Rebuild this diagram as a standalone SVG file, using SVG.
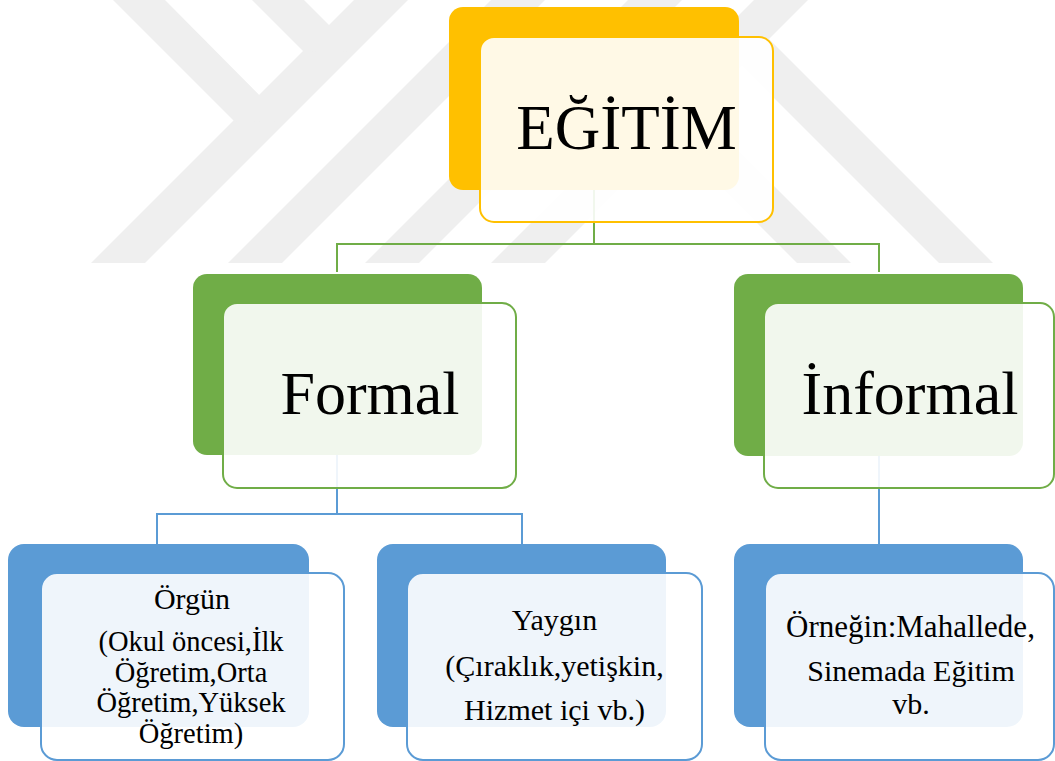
<svg xmlns="http://www.w3.org/2000/svg" width="1055" height="761" viewBox="0 0 1055 761">
  <style>
    .wm { fill: #EFEFEF; }
    .back-y { fill: #FFC000; }
    .back-g { fill: #70AD47; }
    .back-b { fill: #5B9BD5; }
    .front { fill: #FFFFFF; fill-opacity: 0.9; stroke-width: 2; }
    .fy { stroke: #FFC000; }
    .fg { stroke: #70AD47; }
    .fb { stroke: #5B9BD5; }
    .cg { fill: none; stroke: #70AD47; stroke-width: 2; }
    .cb { fill: none; stroke: #5B9BD5; stroke-width: 2; }
    .big { font-family: "Liberation Serif", "Times New Roman", serif; font-size: 62px; fill: #000; text-anchor: middle; }
    .small { font-family: "Liberation Serif", "Times New Roman", serif; font-size: 30px; fill: #000; text-anchor: middle; }
    .tight { font-size: 28.5px; }
  </style>
  <rect x="0" y="0" width="1055" height="761" fill="#FFFFFF"/>
  <g id="watermark">
    <polygon class="wm" points="91,263 145,263 408,0 354,0"/>
    <polygon class="wm" points="228,263 282,263 545,0 491,0"/>
    <polygon class="wm" points="365,263 419,263 682,0 628,0"/>
    <polygon class="wm" points="491,263 545,263 808,0 754,0"/>
    <polygon class="wm" points="113,0 165,0 286,122 234,121"/>
    <polygon class="wm" points="252,0 304,0 356,52 303,51"/>
    <polygon class="wm" points="939,263 993,263 769,39 715,39"/>
    <polygon class="wm" points="797,263 851,263 635,47 581,47"/>
  </g>
  <g id="connectors">
    <path class="cg" d="M594,190 V244 M337,272 V244 H879 V272"/>
    <path class="cb" d="M337,455 V514 M157,544 V514 H522 V544"/>
    <path class="cb" d="M879,456 V544"/>
  </g>
  <g id="node-egitim">
    <rect class="back-y" x="449" y="7" width="290" height="183" rx="14"/>
    <rect class="front fy" x="480" y="37" width="293" height="185" rx="14"/>
    <text class="big" x="626.5" y="149" style="font-size:63px">EĞİTİM</text>
  </g>
  <g id="node-formal">
    <rect class="back-g" x="193" y="274" width="289" height="181" rx="14"/>
    <rect class="front fg" x="223" y="303" width="293" height="185" rx="14"/>
    <text class="big" x="370" y="414">Formal</text>
  </g>
  <g id="node-informal">
    <rect class="back-g" x="734" y="274" width="289" height="182" rx="14"/>
    <rect class="front fg" x="764" y="303" width="290" height="185" rx="14"/>
    <text class="big" x="910" y="414">İnformal</text>
  </g>
  <g id="node-orgun">
    <rect class="back-b" x="8" y="544" width="301" height="183" rx="16"/>
    <rect class="front fb" x="41" y="573" width="303" height="187" rx="16"/>
    <text class="small" x="192" y="609">Örgün</text>
    <text class="small tight" x="191" y="651">(Okul öncesi,İlk</text>
    <text class="small tight" x="191" y="681.5">Öğretim,Orta</text>
    <text class="small tight" x="191" y="712">Öğretim,Yüksek</text>
    <text class="small tight" x="191" y="742.5">Öğretim)</text>
  </g>
  <g id="node-yaygin">
    <rect class="back-b" x="377" y="544" width="289" height="183" rx="16"/>
    <rect class="front fb" x="407" y="573" width="295" height="187" rx="16"/>
    <text class="small" x="554.5" y="630">Yaygın</text>
    <text class="small" x="554.5" y="676">(Çıraklık,yetişkin,</text>
    <text class="small" x="554.5" y="720">Hizmet içi vb.)</text>
  </g>
  <g id="node-ornegin">
    <rect class="back-b" x="734" y="544" width="289" height="183" rx="16"/>
    <rect class="front fb" x="765" y="573" width="289" height="187" rx="16"/>
    <text class="small" x="910.5" y="637" style="font-size:31px">Örneğin:Mahallede,</text>
    <text class="small" x="911" y="681">Sinemada Eğitim</text>
    <text class="small" x="911" y="714">vb.</text>
  </g>
</svg>
